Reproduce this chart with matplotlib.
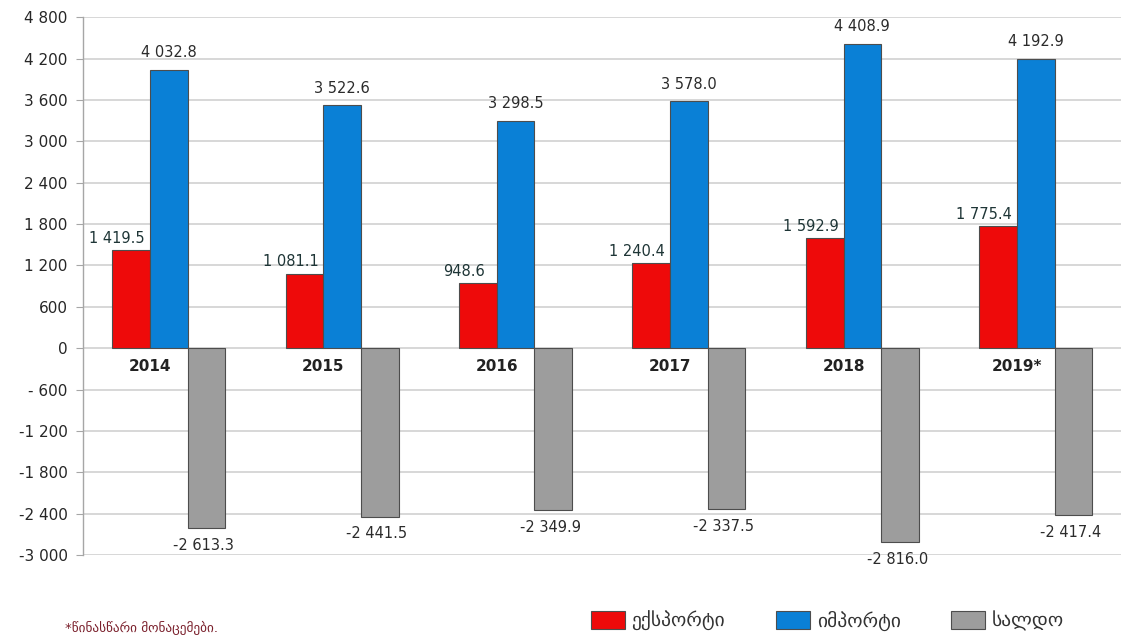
import matplotlib.pyplot as plt
from matplotlib.patches import Patch

plt.rcParams['font.family'] = ['DejaVu Sans']

# ექსპორტი / იმპორტი / სალდო, მლნ აშშ დოლარი
years = ['2014', '2015', '2016', '2017', '2018', '2019*']
exports = [1419.5, 1081.1, 948.6, 1240.4, 1592.9, 1775.4]
imports = [4032.8, 3522.6, 3298.5, 3578.0, 4408.9, 4192.9]
balance = [-2613.3, -2441.5, -2349.9, -2337.5, -2816.0, -2417.4]

y_ticks = [-3000, -2400, -1800, -1200, -600, 0, 600, 1200, 1800, 2400, 3000, 3600, 4200, 4800]
y_tick_labels = ['-3 000', '-2 400', '-1 800', '-1 200', '- 600', '0', '600', '1 200',
                 '1 800', '2 400', '3 000', '3 600', '4 200', '4 800']

legend_labels = ['ექსპორტი', 'იმპორტი', 'სალდო']
footnote = '*წინასწარი მონაცემები.'

c_exp = '#ee0a0a'
c_imp = '#0a80d6'
c_bal = '#9d9d9d'
c_edge = '#4d4d4d'
c_label = '#1e3536'


def fmt(v):
    return f'{v:,.1f}'.replace(',', ' ')


fig = plt.figure(figsize=(11.21, 6.38), dpi=100)
ax = fig.add_axes([0.074, 0.130, 0.926, 0.843])

w = 0.217
x = list(range(len(years)))

b1 = ax.bar([i - w / 2 for i in x], exports, w, color=c_exp, edgecolor=c_edge, linewidth=0.8, zorder=3)
b2 = ax.bar([i + w / 2 for i in x], imports, w, color=c_imp, edgecolor=c_edge, linewidth=0.8, zorder=3)
b3 = ax.bar([i + 1.5 * w for i in x], balance, w, color=c_bal, edgecolor=c_edge, linewidth=0.8, zorder=3)

# მნიშვნელობების წარწერები
for rect, v in zip(b1, exports):
    ax.annotate(fmt(v), (rect.get_x() + rect.get_width() / 2, v), xytext=(-10, 3),
                textcoords='offset points', ha='center', va='bottom',
                fontsize=10.5, color=c_label)
for rect, v in zip(b2, imports):
    ax.annotate(fmt(v), (rect.get_x() + rect.get_width() / 2, v), xytext=(0, 7),
                textcoords='offset points', ha='center', va='bottom',
                fontsize=10.5, color='#2b2b2b')
for rect, v in zip(b3, balance):
    ax.annotate(fmt(v), (rect.get_x() + rect.get_width() / 2, v), xytext=(-2, -7),
                textcoords='offset points', ha='center', va='top',
                fontsize=10.5, color='#2b2b2b')

# წლები ნულოვანი ხაზის ქვეშ
for i, yr in enumerate(years):
    ax.annotate(yr, (i, 0), xytext=(0, -8), textcoords='offset points',
                ha='center', va='top', fontsize=11, fontweight='bold', color='#222222')

ax.set_xlim(-0.386, 5.6)
ax.set_ylim(-3000, 4800)
ax.set_yticks(y_ticks)
ax.set_yticklabels(y_tick_labels, fontsize=11, color='#262626')
ax.set_xticks([])

ax.grid(axis='y', color='#d4d4d4', linewidth=1.3, zorder=0)
for s in ['top', 'right', 'bottom']:
    ax.spines[s].set_visible(False)
ax.spines['left'].set_color('#a6a6a6')
ax.spines['left'].set_linewidth(1.0)
ax.tick_params(axis='y', length=5, color='#a6a6a6', pad=6)

handles = [Patch(facecolor=c, edgecolor=c_edge, linewidth=0.8) for c in (c_exp, c_imp, c_bal)]
fig.legend(handles, legend_labels, loc='center right', bbox_to_anchor=(0.965, 0.027),
           ncol=3, frameon=False, fontsize=14, handlelength=1.75, handleheight=1.0,
           handletextpad=0.35, columnspacing=2.6, labelcolor='#333333')

fig.text(0.058, 0.016, footnote, fontsize=9.5, color='#7a1f2b', ha='left', va='center')

fig.savefig('out.png', dpi=100)
